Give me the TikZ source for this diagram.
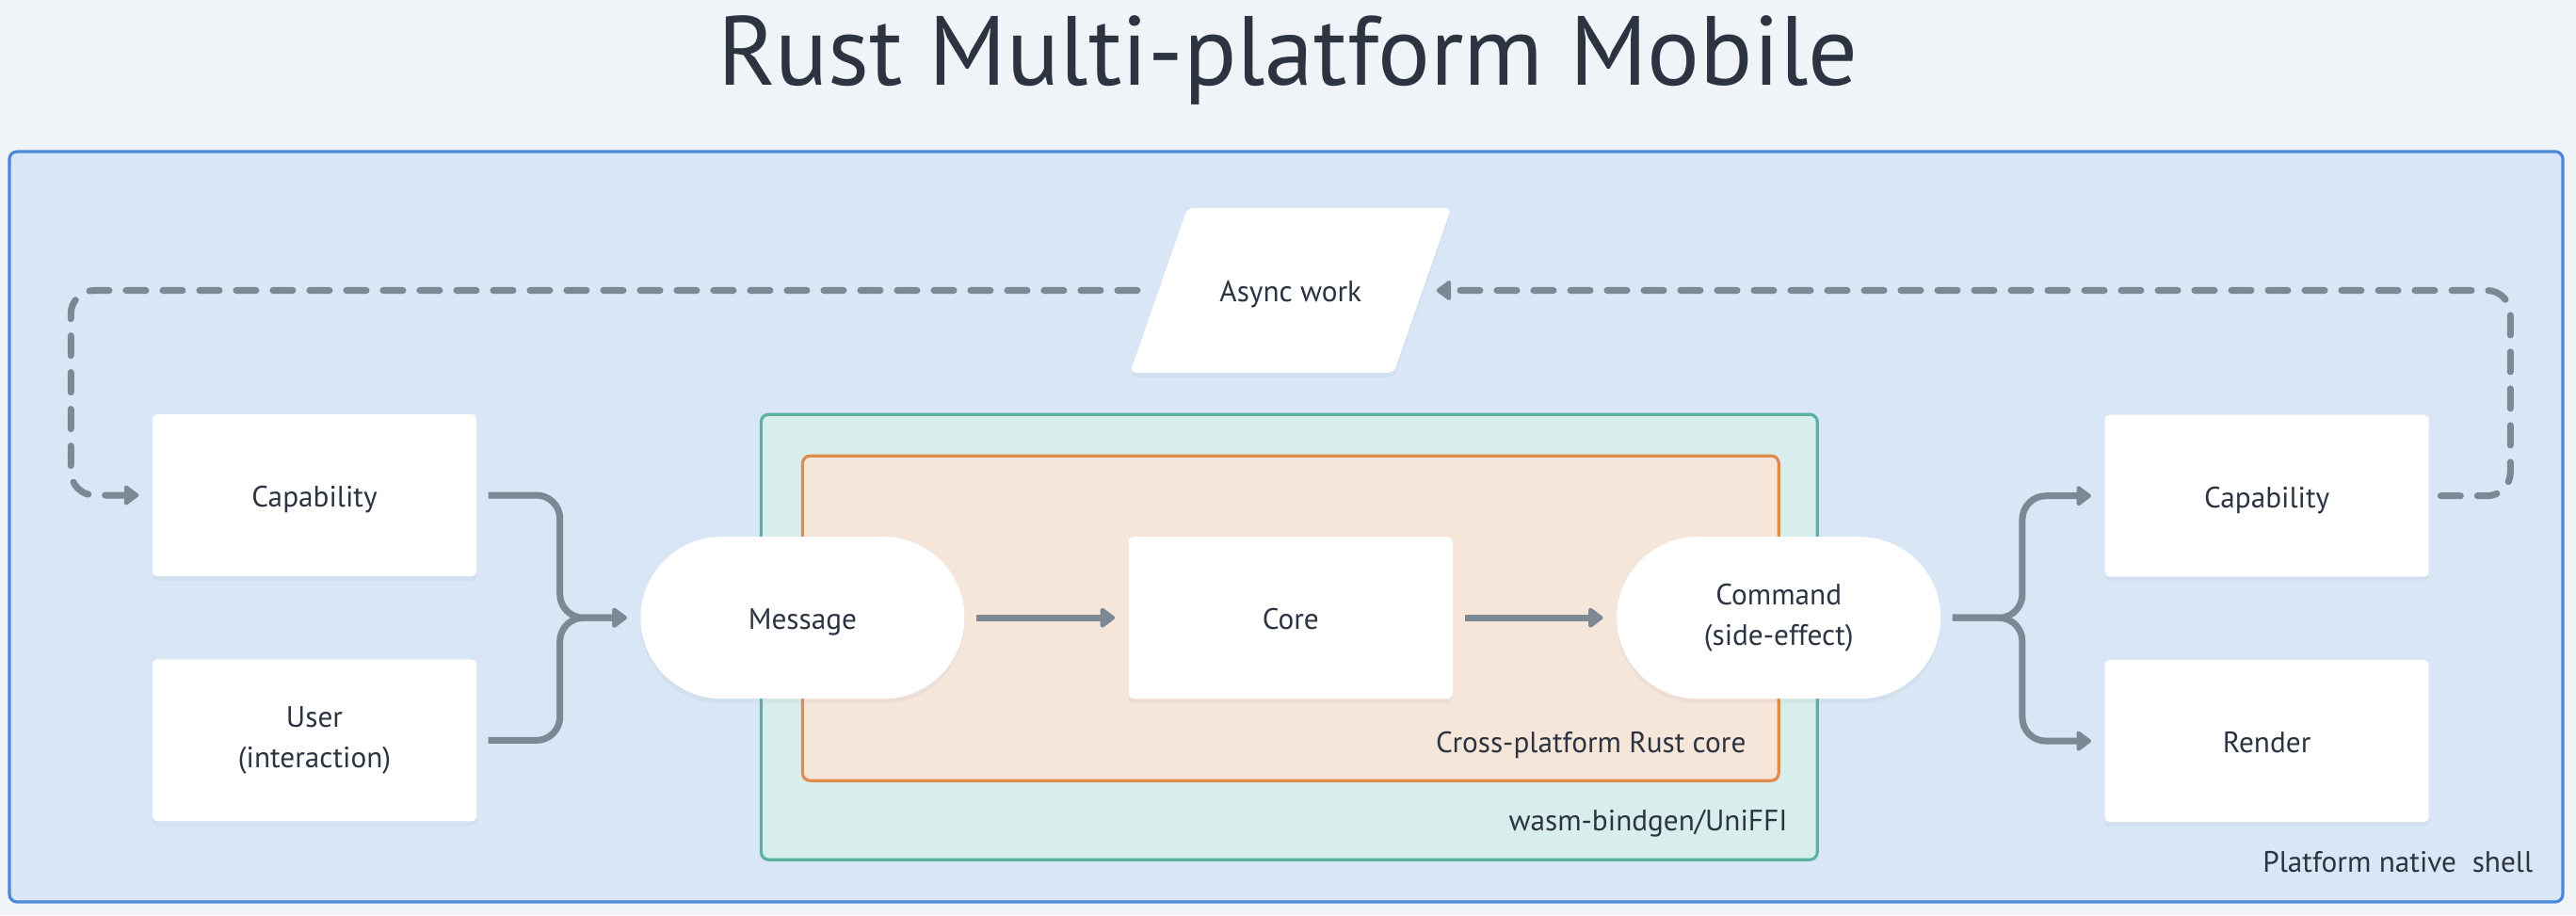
\documentclass[tikz,border=0pt]{standalone}
\usepackage{fontspec}
\setmainfont{PT Sans}
\usetikzlibrary{shapes.geometric, arrows.meta, positioning, shadows, calc, backgrounds, fit}
\definecolor{pageGrey}{HTML}{F0F4F8}
\definecolor{shellBlue}{HTML}{4A87D9}
\definecolor{shellFill}{HTML}{D9E6F5}
\definecolor{bindTeal}{HTML}{5BB0A2}
\definecolor{bindFill}{HTML}{D8EEEC}
\definecolor{coreOrange}{HTML}{E08A4B}
\definecolor{coreFill}{HTML}{F6E6DA}
\definecolor{flowGrey}{HTML}{7D8895}
\definecolor{inkDark}{HTML}{2B3440}
\tikzset{
    card/.style={rectangle, rounded corners=0.5mm, minimum width=3.44cm, minimum height=1.72cm, align=center, text=inkDark, font=\fontsize{8.9pt}{12pt}\selectfont, text height=0.7em, text depth=0pt, fill=white, drop shadow={shadow xshift=0pt, shadow yshift=-0.5mm, opacity=0.07, fill=flowGrey}},
    twoline/.style={text height=, text depth=},
    pill/.style={card, rounded corners=8.6mm},
    io/.style={card, trapezium, trapezium left angle=70.8, trapezium right angle=109.2, trapezium stretches body, minimum height=0pt, inner ysep=0.75cm, minimum width=3.41cm, rounded corners=0.6mm},
    layer/.style={line width=0.9pt, rounded corners=0.8mm, inner sep=0pt},
    shell/.style={layer, draw=shellBlue, fill=shellFill},
    bind/.style={layer, draw=bindTeal, fill=bindFill},
    rustcore/.style={layer, draw=coreOrange, fill=coreFill},
    caption/.style={anchor=base east, text=inkDark, font=\fontsize{8.9pt}{12pt}\selectfont},
    flow/.style={-{Triangle[length=1.7mm, width=2.4mm, round]}, line width=2pt, draw=flowGrey, rounded corners=2.5mm, shorten <=1.2mm, shorten >=1.4mm},
    loopback/.style={flow, dash pattern=on 2.1mm off 1.8mm, line cap=round}
}

\begin{document}
\begin{tikzpicture}[node distance=1.73cm]
    \useasboundingbox (0,0) rectangle (27.36,-9.72);

    % Title
    \node (title) [anchor=base, text=inkDark, font=\fontsize{29.7pt}{34pt}\selectfont] at (13.68,-0.90) {Rust Multi-platform Mobile};

    % Inputs
    \node (capIn) [card] at (3.34,-5.26) {Capability};
    \node (user) [card, twoline, below=0.87cm of capIn] {User \\ (interaction)};
    \coordinate (inMid) at ($(capIn.east)!0.5!(user.east)$);

    % Core loop
    \node (msg) [pill, right=of inMid] {Message};
    \node (core) [card, right=of msg] {Core};
    \node (cmd) [pill, twoline, right=of core] {Command \\ (side-effect)};
    \node (async) [io, above=of core] {Async work};

    % Outputs
    \node (capOut) [card, right=of cmd, yshift=1.295cm] {Capability};
    \node (render) [card, below=0.87cm of capOut] {Render};

    % Layers
    \coordinate (shellNW) at (0.10,-1.61);
    \coordinate (shellSE) at (27.22,-9.58);
    \coordinate (bindNW) at ($(msg.center)+(-0.44,2.16)$);
    \coordinate (bindSE) at ($(cmd.center)+(0.41,-2.57)$);
    \coordinate (rustNW) at ($(msg.center)+(0,1.72)$);
    \coordinate (rustSE) at ($(cmd.center)+(0,-1.73)$);
    \begin{pgfonlayer}{background}
        \fill [pageGrey] (0,0) rectangle (27.36,-9.72);
        \node (shellBox) [shell, fit=(shellNW)(shellSE)] {};
        \node (bindBox) [bind, fit=(bindNW)(bindSE)] {};
        \node (rustBox) [rustcore, fit=(rustNW)(rustSE)] {};
    \end{pgfonlayer}

    \node (rustLabel) [caption] at ($(rustBox.south east)+(-0.24,0.31)$) {Cross-platform Rust core};
    \node (bindLabel) [caption] at ($(bindBox.south east)+(-0.21,0.32)$) {wasm-bindgen/UniFFI};
    \node (shellLabel) [caption] at ($(shellBox.south east)+(-0.21,0.33)$) {Platform native\ \ shell};

    % Connecting
    \coordinate (forkIn) at ($(inMid)+(0.88,0)$);
    \draw [flow] (capIn.east) -| (forkIn) -- (msg.west);
    \draw [flow] (user.east) -| (forkIn) -- (msg.west);
    \draw [flow] (msg) -- (core);
    \draw [flow] (core) -- (cmd);

    \coordinate (forkOut) at ($(cmd.east)+(0.86,0)$);
    \draw [flow] (cmd.east) -- (forkOut) |- (capOut.west);
    \draw [flow] (cmd.east) -- (forkOut) |- (render.west);

    % Feedback through async work
    \coordinate (loopIn) at ($(capIn.west)+(-0.86,0)$);
    \coordinate (loopOut) at ($(capOut.east)+(0.86,0)$);
    \draw [loopback, shorten <=2.2mm] (async.west) -| (loopIn) -- (capIn.west);
    \draw [loopback] (capOut.east) -- (loopOut) |- (async.east);

\end{tikzpicture}
\end{document}
